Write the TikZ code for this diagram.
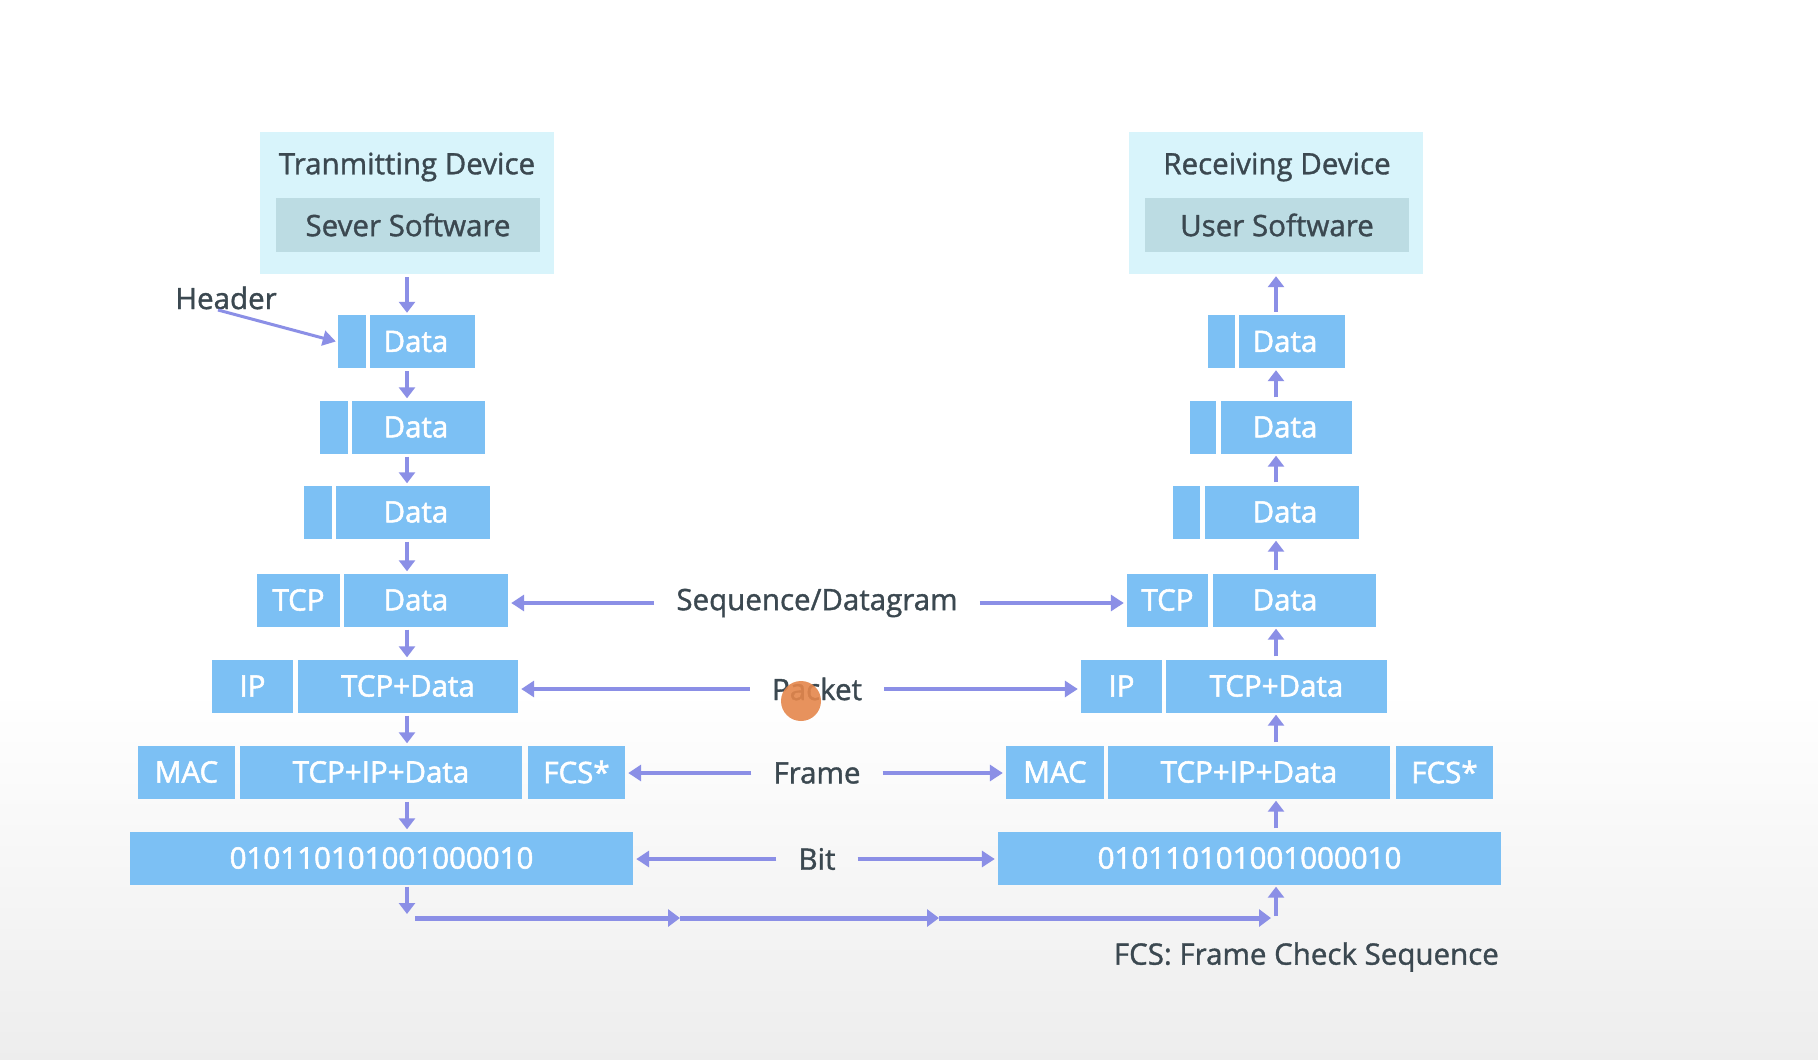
\documentclass[tikz,border=0pt]{standalone}
\usepackage{fontspec}
\setmainfont{Open Sans}
\newfontfamily\semif[FakeBold=1.8]{Open Sans}
\newfontfamily\medf[FakeBold=1.2]{Open Sans}
\usetikzlibrary{arrows.meta}
\definecolor{boxblue}{HTML}{7CC0F4}
\definecolor{arrcol}{HTML}{8B8FE6}
\definecolor{devbg}{HTML}{D8F4FB}
\definecolor{innerbg}{HTML}{BCDCE3}
\definecolor{txtdark}{HTML}{3B4850}
\definecolor{cursorcol}{HTML}{E5874C}
\newcommand{\bigf}{\fontsize{29.5pt}{35pt}\selectfont}
\tikzset{
  blk/.style={fill=boxblue, text=white, minimum height=53pt, inner sep=0pt, font=\semif\bigf},
  btxt/.style={text=white, inner sep=0pt, font=\semif\bigf},
  devbox/.style={fill=devbg, minimum width=294pt, minimum height=142pt, inner sep=0pt},
  innerbox/.style={fill=innerbg, text=txtdark, minimum width=264pt, minimum height=54pt, inner sep=0pt, font=\medf\bigf},
  lbl/.style={text=txtdark, font=\medf\bigf, inner sep=0pt},
  midlbl/.style={text=txtdark, font=\medf\bigf, inner xsep=22pt, inner ysep=0pt},
  varr/.style={draw=arrcol, line width=4pt, -{Triangle[length=11pt,width=16pt]}, shorten >=2pt, shorten <=3pt},
  harr/.style={draw=arrcol, line width=3.5pt, -{Triangle[length=13pt,width=16pt]}, shorten >=3pt},
  barr/.style={draw=arrcol, line width=5pt, -{Triangle[length=12pt,width=17pt]}}
}
\begin{document}
\begin{tikzpicture}[x=1pt,y=-1pt]
\useasboundingbox (0,0) rectangle (1818,1060);
\fill[white] (0,0) rectangle (1818,1060);
\shade[top color=white, bottom color=black!7] (0,690) rectangle (1818,1060);

% devices
\node[devbox] (ldev) at (407,203) {};
\node[lbl] (ltitle) at (407,167) {Tranmitting Device};
\node[innerbox] (lsoft) at (408,225) {Sever Software};
\node[devbox] (rdev) at (1276,203) {};
\node[lbl] (rtitle) at (1277,167) {Receiving Device};
\node[innerbox] (rsoft) at (1277,225) {User Software};

\coordinate (lx) at (407,0);
\coordinate (rx) at (1276,0);

% left stack
\node[blk, minimum width=28pt] (l1h) at (352,341.5) {};
\node[blk, minimum width=105pt] (l1d) at (422.5,341.5) {};
\node[btxt] (l1t) at (416,341.5) {Data};
\node[blk, minimum width=28pt] (l2h) at (334,427) {};
\node[blk, minimum width=133pt] (l2d) at (418.5,427) {};
\node[btxt] (l2t) at (416,427) {Data};
\node[blk, minimum width=28pt] (l3h) at (318,512) {};
\node[blk, minimum width=154pt] (l3d) at (413,512) {};
\node[btxt] (l3t) at (416,512) {Data};
\node[blk, minimum width=83pt] (l4h) at (298.5,600) {TCP};
\node[blk, minimum width=164pt] (l4d) at (426,600) {};
\node[btxt] (l4t) at (416,600) {Data};
\node[blk, minimum width=81pt] (l5h) at (252.5,686) {IP};
\node[blk, minimum width=220pt] (l5d) at (408,686) {TCP+Data};
\node[blk, minimum width=97pt] (l6h) at (186.5,772) {MAC};
\node[blk, minimum width=282pt] (l6d) at (381,772) {TCP+IP+Data};
\node[blk, minimum width=97pt] (l6f) at (576.5,772) {FCS*};
\node[blk, minimum width=503pt] (l7) at (381.5,858) {010110101001000010};

% right stack
\node[blk, minimum width=27pt] (r1h) at (1221.5,341.5) {};
\node[blk, minimum width=106pt] (r1d) at (1292,341.5) {};
\node[btxt] (r1t) at (1285,341.5) {Data};
\node[blk, minimum width=26pt] (r2h) at (1203,427) {};
\node[blk, minimum width=131pt] (r2d) at (1286.5,427) {};
\node[btxt] (r2t) at (1285,427) {Data};
\node[blk, minimum width=27pt] (r3h) at (1186.5,512) {};
\node[blk, minimum width=154pt] (r3d) at (1282,512) {};
\node[btxt] (r3t) at (1285,512) {Data};
\node[blk, minimum width=81pt] (r4h) at (1167.5,600) {TCP};
\node[blk, minimum width=163pt] (r4d) at (1294.5,600) {};
\node[btxt] (r4t) at (1285,600) {Data};
\node[blk, minimum width=81pt] (r5h) at (1121.5,686) {IP};
\node[blk, minimum width=221pt] (r5d) at (1276.5,686) {TCP+Data};
\node[blk, minimum width=98pt] (r6h) at (1055,772) {MAC};
\node[blk, minimum width=282pt] (r6d) at (1249,772) {TCP+IP+Data};
\node[blk, minimum width=97pt] (r6f) at (1444.5,772) {FCS*};
\node[blk, minimum width=503pt] (r7) at (1249.5,858) {010110101001000010};

% left down arrows
\draw[varr] (ldev.south -| lx) -- (l1d.north -| lx);
\draw[varr] (l1d.south -| lx) -- (l2d.north -| lx);
\draw[varr] (l2d.south -| lx) -- (l3d.north -| lx);
\draw[varr] (l3d.south -| lx) -- (l4d.north -| lx);
\draw[varr] (l4d.south -| lx) -- (l5d.north -| lx);
\draw[varr] (l5d.south -| lx) -- (l6d.north -| lx);
\draw[varr] (l6d.south -| lx) -- (l7.north -| lx);

% right up arrows
\draw[varr] (r1d.north -| rx) -- (rdev.south -| rx);
\draw[varr] (r2d.north -| rx) -- (r1d.south -| rx);
\draw[varr] (r3d.north -| rx) -- (r2d.south -| rx);
\draw[varr] (r4d.north -| rx) -- (r3d.south -| rx);
\draw[varr] (r5d.north -| rx) -- (r4d.south -| rx);
\draw[varr] (r6d.north -| rx) -- (r5d.south -| rx);
\draw[varr] (r7.north -| rx) -- (r6d.south -| rx);

% header label
\node[lbl] (hdr) at (226,298) {Header};
\coordinate (hdrstart) at (218,310);
\draw[draw=arrcol, line width=3pt, -{Triangle[length=13pt,width=15pt]}] (hdrstart) -- ([xshift=-2pt]l1h.west);

% middle labels
\node[midlbl] (seq) at (817,603) {Sequence/Datagram};
\node[midlbl] (pkt) at (817,689) {Packet};
\node[midlbl] (frm) at (817,773) {Frame};
\node[midlbl] (bit) at (817,859) {Bit};

\draw[harr] (seq.west) -- (seq.west -| l4d.east);
\draw[harr] (seq.east) -- (seq.east -| r4h.west);
\draw[harr] (pkt.west) -- (pkt.west -| l5d.east);
\draw[harr] (pkt.east) -- (pkt.east -| r5h.west);
\draw[harr] (frm.west) -- (frm.west -| l6f.east);
\draw[harr] (frm.east) -- (frm.east -| r6h.west);
\draw[harr] (bit.west) -- (bit.west -| l7.east);
\draw[harr] (bit.east) -- (bit.east -| r7.west);

% bottom transfer line
\coordinate (bd) at (407,914);
\coordinate (h0) at (415,918);
\coordinate (h1) at (680,918);
\coordinate (h2) at (939,918);
\coordinate (h3) at (1271,918);
\coordinate (bu) at (1276,916);
\draw[varr, shorten <=2pt, shorten >=0pt] (l7.south -| lx) -- (bd);
\draw[varr, shorten >=2pt, shorten <=0pt] (bu) -- (r7.south -| rx);
\draw[barr] (h0) -- (h1);
\draw[barr] (h1) -- (h2);
\draw[barr] (h2) -- (h3);

% footnote
\node[lbl, anchor=east] (fcs) at (1499,957) {FCS: Frame Check Sequence};

% cursor mark
\fill[cursorcol, opacity=0.9] (801,701) circle (20pt);
\end{tikzpicture}
\end{document}
